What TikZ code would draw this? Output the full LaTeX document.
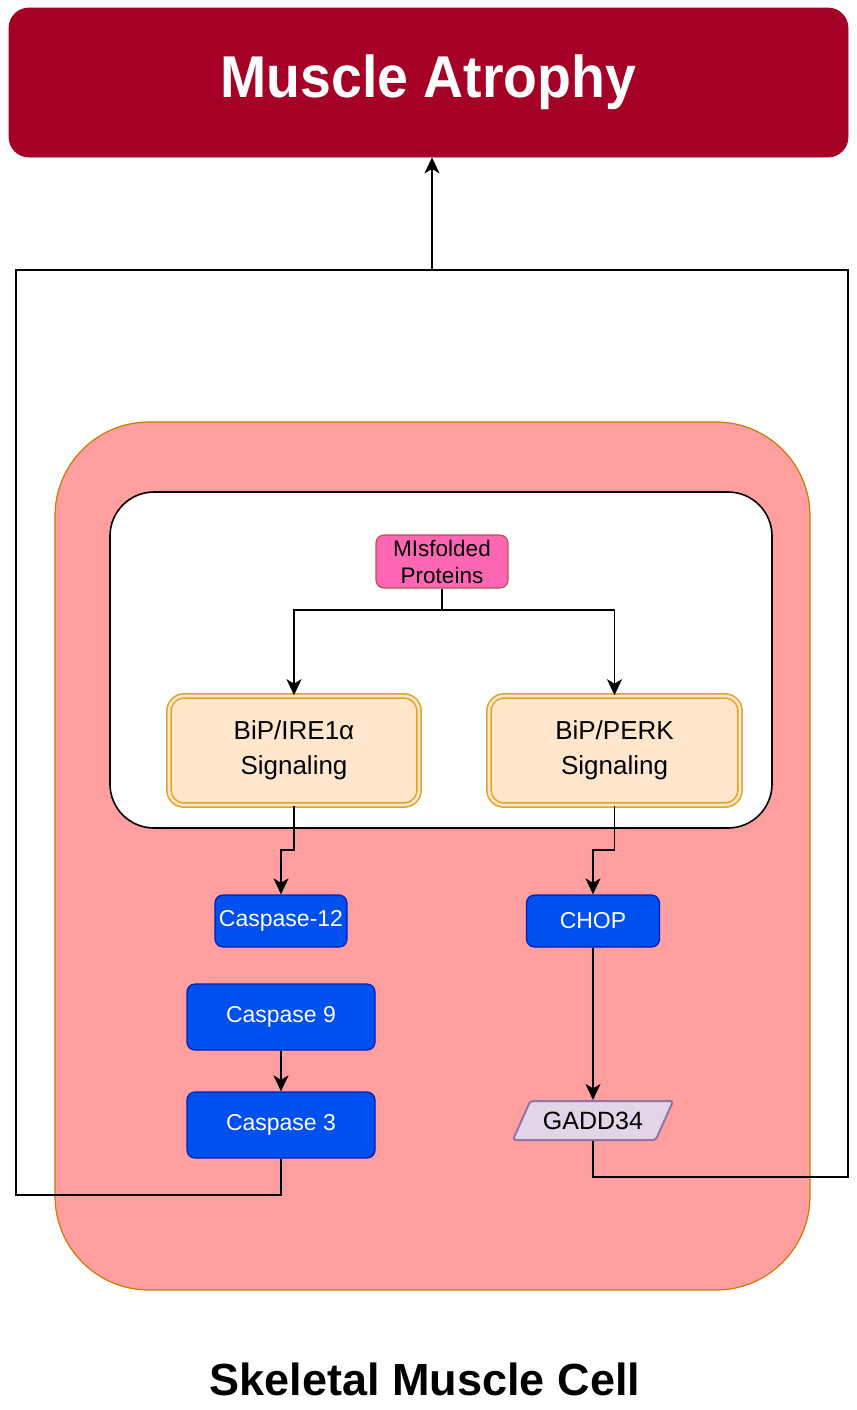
\documentclass[tikz,border=0pt]{standalone}
\usepackage{fontspec}
\setmainfont{Liberation Sans}
\usetikzlibrary{arrows.meta,shapes.geometric}

\definecolor{atrophyred}{HTML}{A50026}
\definecolor{cellfill}{HTML}{FF9F9F}
\definecolor{celledge}{HTML}{CC7A00}
\definecolor{pinkfill}{HTML}{FF66B3}
\definecolor{pinkedge}{HTML}{B85450}
\definecolor{sigfill}{HTML}{FFE6CC}
\definecolor{sigedge}{HTML}{E0A526}
\definecolor{bluefill}{HTML}{0050EF}
\definecolor{blueedge}{HTML}{001DBC}
\definecolor{lilacfill}{HTML}{E1D5E7}
\definecolor{lilacedge}{HTML}{9673A6}

\begin{document}
\begin{tikzpicture}[x=0.5pt,y=-0.5pt,
  base/.style={rectangle,inner sep=0pt,align=center},
  outcome/.style={base,fill=atrophyred,draw=atrophyred,rounded corners=10pt,
    text=white,font=\fontsize{29.5}{32}\selectfont\bfseries},
  cellbox/.style={base,fill=cellfill,draw=celledge,line width=0.6pt,rounded corners=47pt},
  erbox/.style={base,fill=white,draw=black,line width=0.8pt,rounded corners=22pt},
  trigger/.style={base,fill=pinkfill,draw=pinkedge,line width=0.6pt,rounded corners=4pt,
    font=\fontsize{11.25}{13.5}\selectfont},
  pathway/.style={base,fill=sigfill,draw=sigedge,line width=0.8pt,double=sigfill,
    double distance=1.3pt,rounded corners=7.5pt,font=\fontsize{13}{17.5}\selectfont},
  effector/.style={base,fill=bluefill,draw=blueedge,line width=0.6pt,rounded corners=4pt,
    text=white,font=\fontsize{11.5}{14}\selectfont},
  stress/.style={trapezium,trapezium left angle=52,trapezium right angle=128,
    trapezium stretches=true,inner sep=0pt,fill=lilacfill,draw=lilacedge,line width=1pt,
    rounded corners=1.5pt,font=\fontsize{12.5}{15}\selectfont},
  arr/.style={-{Stealth[length=8pt,width=7.5pt,inset=2.2pt]},line width=0.9pt},
  link/.style={line width=0.9pt}]

\useasboundingbox (0,0) rectangle (857,1410);

% result at the top
\node[outcome,minimum width=419.5pt,minimum height=74.5pt] (atrophy) at (428.5,82.5)
  {\raisebox{-2pt}{\scalebox{0.94}[1]{Muscle Atrophy}}};

% cell and ER compartment
\node[cellbox,minimum width=377.5pt,minimum height=434pt] (cell) at (432.5,856) {};
\node[erbox,minimum width=331pt,minimum height=168pt] (er) at (441,660) {};

% UPR signalling
\node[trigger,minimum width=66pt,minimum height=26.5pt] (mis) at (442,561.5) {MIsfolded\\Proteins};
\node[pathway,minimum width=125pt,minimum height=54.5pt] (ire) at (294,750.5) {BiP/IRE1α\\Signaling};
\node[pathway,minimum width=125.5pt,minimum height=54.5pt] (perk) at (614.5,750.5) {BiP/PERK\\Signaling};

% downstream effectors
\node[effector,minimum width=66pt,minimum height=26pt] (c12) at (281,921) {Caspase-12};
\node[effector,minimum width=66.5pt,minimum height=26pt] (chop) at (593,921) {CHOP};
\node[effector,minimum width=94pt,minimum height=33pt] (c9) at (281,1017) {Caspase 9};
\node[effector,minimum width=94pt,minimum height=33pt] (c3) at (281,1125) {Caspase 3};
\node[stress,minimum width=80.5pt,minimum height=19.5pt] (gadd) at (593,1120.5) {GADD34};

% caption
\node[anchor=base,font=\fontsize{22.5}{27}\selectfont\bfseries] (caption) at (425,1395) {Skeletal Muscle Cell};

% routing points
\coordinate (split) at (442,610);
\coordinate (join) at (432,270);
\coordinate (cl) at (16,1195);
\coordinate (cr) at (848,1177);

% connectors
\draw[arr] (mis.south) -- (split) -| (ire.north);
\draw[arr] (split) -| (perk.north);
\draw[arr] (ire.south) -- ++(0,44) -| (c12.north);
\draw[arr] (perk.south) -- ++(0,44) -| (chop.north);
\draw[arr] (chop.south) -- (chop.south |- gadd.north);
\draw[arr] (c9.south) -- (c3.north);
\draw[link] (gadd.south -| chop.south) |- (cr) |- (join);
\draw[arr] (c3.south) |- (cl) |- (join) -- (join |- atrophy.south);

\end{tikzpicture}
\end{document}
